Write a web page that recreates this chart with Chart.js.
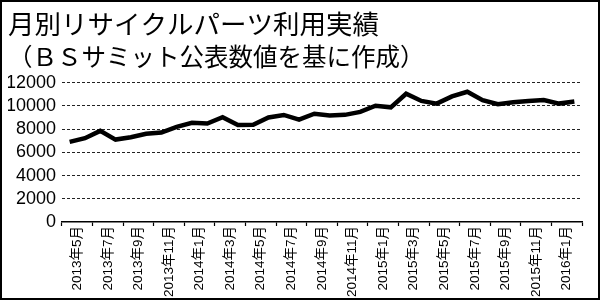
<!DOCTYPE html>
<html>
<head>
<meta charset="utf-8">
<script src="https://cdn.jsdelivr.net/npm/chart.js@4/dist/chart.umd.min.js"></script>
<style>
  html, body { margin: 0; padding: 0; background: #fff; }
  #wrap { position: relative; width: 600px; height: 300px; box-sizing: border-box; border: 2px solid #000; background: #fff; }
  #box { position: relative; width: 596px; height: 296px; }
</style>
</head>
<body>
<div id="wrap"><div id="box"><canvas id="c"></canvas></div></div>
<script>
const titleLine1 = '月別リサイクルパーツ利用実績';
const titleLine2 = '（ＢＳサミット公表数値を基に作成）';
const categories = [
  '2013年5月','2013年6月','2013年7月','2013年8月','2013年9月','2013年10月','2013年11月','2013年12月',
  '2014年1月','2014年2月','2014年3月','2014年4月','2014年5月','2014年6月','2014年7月','2014年8月',
  '2014年9月','2014年10月','2014年11月','2014年12月',
  '2015年1月','2015年2月','2015年3月','2015年4月','2015年5月','2015年6月','2015年7月','2015年8月',
  '2015年9月','2015年10月','2015年11月','2015年12月',
  '2016年1月','2016年2月'
];
const usage = [
  6900, 7220, 7850, 7100, 7300, 7600, 7700, 8200,
  8550, 8480, 9030, 8350, 8380, 9000, 9220, 8820,
  9330, 9180, 9230, 9480,
  10020, 9880, 11050, 10430, 10200, 10820, 11220, 10500,
  10150, 10320, 10420, 10500,
  10200, 10380
];
const yTicks = [0, 2000, 4000, 6000, 8000, 10000, 12000];

const sansFont = "'Liberation Sans', 'Noto Sans CJK JP', sans-serif";

new Chart(document.getElementById('c'), {
  type: 'line',
  data: {
    labels: categories,
    datasets: [{
      data: usage,
      borderColor: '#000',
      borderWidth: 4.5,
      pointRadius: 0,
      tension: 0,
      fill: false
    }]
  },
  options: {
    responsive: true,
    maintainAspectRatio: false,
    animation: false,
    layout: { padding: { left: 6, right: 16, top: 0, bottom: 0 } },
    plugins: {
      legend: { display: false },
      tooltip: { enabled: false },
      title: {
        display: true,
        text: titleLine1,
        align: 'start',
        color: '#000',
        font: { family: "'Noto Sans CJK JP', sans-serif", size: 26.5, weight: 'normal', lineHeight: 1.2 },
        padding: { top: 6, bottom: 0 }
      },
      subtitle: {
        display: true,
        text: titleLine2,
        align: 'start',
        color: '#000',
        font: { family: "'Noto Sans CJK JP', sans-serif", size: 24.5, weight: 'normal', lineHeight: 1.2 },
        padding: { top: 2.5, bottom: 11 }
      }
    },
    scales: {
      x: {
        type: 'category',
        offset: true,
        afterFit: (s) => { s.height = 76; },
        border: { display: true, color: '#000', width: 1.5 },
        grid: {
          offset: true,
          drawOnChartArea: false,
          drawTicks: true,
          tickLength: 4,
          tickWidth: 1.2,
          tickColor: (ctx) => (ctx.index === undefined || ctx.index % 2 === 0) ? '#000' : 'rgba(0,0,0,0)'
        },
        ticks: {
          autoSkip: false,
          minRotation: 90,
          maxRotation: 90,
          padding: 0,
          labelOffset: 7.6,
          color: '#000',
          font: { family: sansFont, size: 13.5 },
          callback: function (v, i) { return i % 2 === 0 ? this.getLabelForValue(v) : ''; }
        }
      },
      y: {
        min: 0,
        max: 12000,
        afterFit: (s) => { s.width = 54; },
        afterBuildTicks: (s) => { s.ticks = yTicks.map(v => ({ value: v })); },
        border: { display: false, dash: [3, 2] },
        grid: {
          drawTicks: false,
          lineWidth: 1,
          color: (ctx) => ctx.tick && ctx.tick.value === 0 ? 'rgba(0,0,0,0)' : '#222'
        },
        ticks: {
          autoSkip: false,
          padding: 6,
          color: '#000',
          font: { family: sansFont, size: 18 },
          callback: (v) => String(v)
        }
      }
    }
  }
});
</script>
</body>
</html>
